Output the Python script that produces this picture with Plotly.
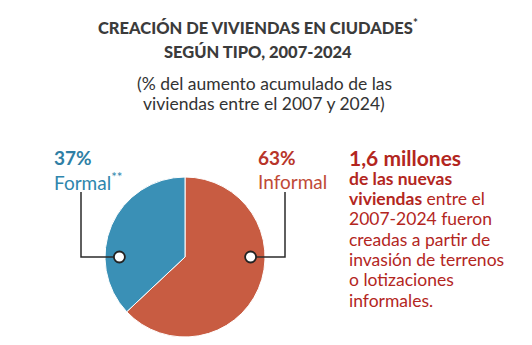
import plotly.graph_objects as go

W, H = 532, 345
categories = ["Informal", "Formal**"]
values = [63, 37]
colors = ["#c85c42", "#3a90b6"]
pct_labels = ["63%", "37%"]

title_lines = ["CREACIÓN DE VIVIENDAS EN CIUDADES<sup>*</sup>", "SEGÚN TIPO, 2007-2024"]
subtitle_lines = ["(% del aumento acumulado de las", "viviendas entre el 2007 y 2024)"]
side_lines = [
    ("<b>1,6 millones</b>", 21),
    ("<b>de las nuevas</b>", 17.5),
    ("<b>viviendas</b> entre el", 17.5),
    ("2007-2024 fueron", 17.5),
    ("creadas a partir de", 17.5),
    ("invasión de terrenos", 17.5),
    ("o lotizaciones", 17.5),
    ("informales.", 17.5),
]

FONT = "Lato"
cx, cy, r = 185, 257, 80  # pie centre and radius in px

def px(x):
    return x / W

def py(y):
    return 1 - y / H

fig = go.Figure(go.Pie(
    labels=categories, values=values, sort=False, direction="clockwise", rotation=0,
    marker=dict(colors=colors, line=dict(color="white", width=1)),
    textinfo="none", hoverinfo="label+percent", showlegend=False,
    domain=dict(x=[px(cx - r), px(cx + r)], y=[py(cy + r), py(cy - r)]),
))

ann = []
# title
for i, t in enumerate(title_lines):
    ann.append(dict(text=t, x=px(258), y=py(27 + 25 * i), xanchor="center", yanchor="middle",
                    font=dict(family=FONT, size=16.5, color="#3b3b3b", weight=900)))
for i, t in enumerate(subtitle_lines):
    ann.append(dict(text=t, x=px(264), y=py(83 + 21 * i), xanchor="center", yanchor="middle",
                    font=dict(family=FONT, size=17.5, color="#333333")))

# pie labels
ann.append(dict(text=f"<b>{pct_labels[1]}</b>", x=px(52), y=py(158), xanchor="left", yanchor="middle",
                font=dict(family=FONT, size=19, color="#2f7fa5")))
ann.append(dict(text=categories[1].replace("**", "<sup>**</sup>"), x=px(52), y=py(181), xanchor="left", yanchor="middle",
                font=dict(family=FONT, size=19, color="#2f86ad")))
ann.append(dict(text=f"<b>{pct_labels[0]}</b>", x=px(256), y=py(158), xanchor="left", yanchor="middle",
                font=dict(family=FONT, size=19, color="#b8352a")))
ann.append(dict(text=categories[0], x=px(256), y=py(181), xanchor="left", yanchor="middle",
                font=dict(family=FONT, size=19, color="#c04a36")))

# side text
y = 158
for i, (t, s) in enumerate(side_lines):
    ann.append(dict(text=t, x=px(347), y=py(y), xanchor="left", yanchor="middle",
                    font=dict(family=FONT, size=s, color="#b3261e")))
    y += 20.3

for a in ann:
    a.update(xref="paper", yref="paper", showarrow=False)

shapes = []
mr = 0.82 * r
# leader lines
line_style = dict(color="#2b2b2b", width=1.5)
lx_f, lx_i = 81, 285
shapes.append(dict(type="path", xref="paper", yref="paper",
                   path=f"M {px(cx - mr)} {py(cy)} L {px(lx_f)} {py(cy)} L {px(lx_f)} {py(192)}", line=line_style))
shapes.append(dict(type="path", xref="paper", yref="paper",
                   path=f"M {px(cx + mr)} {py(cy)} L {px(lx_i)} {py(cy)} L {px(lx_i)} {py(192)}", line=line_style))
for xm in (cx - mr, cx + mr):
    shapes.append(dict(type="circle", xref="paper", yref="paper", xsizemode="pixel", ysizemode="pixel",
                       xanchor=px(xm), yanchor=py(cy), x0=-5.5, x1=5.5, y0=-5.5, y1=5.5,
                       fillcolor="white", line=dict(color="#222222", width=1.8)))

fig.update_layout(width=W, height=H, margin=dict(l=0, r=0, t=0, b=0), paper_bgcolor="white",
                  plot_bgcolor="white", annotations=ann, shapes=shapes)
fig.write_html("out.html")
